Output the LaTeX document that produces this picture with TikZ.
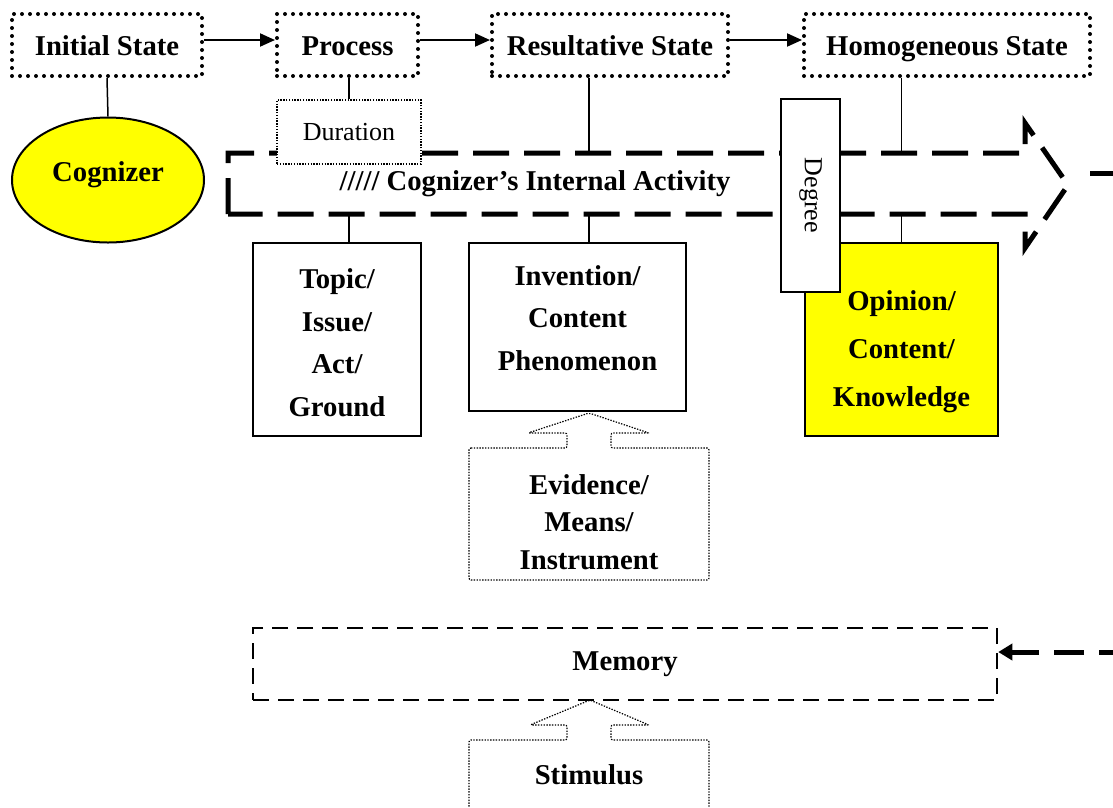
\documentclass[tikz,border=0pt]{standalone}
\usepackage{fontspec}
\setmainfont{Liberation Serif}
\usetikzlibrary{arrows.meta,shapes.geometric}
\definecolor{hiyellow}{RGB}{255,255,0}

\begin{document}
\begin{tikzpicture}[x=1pt,y=-1pt,
  bigtxt/.style={font=\fontsize{28.7}{42.5}\selectfont\bfseries},
  smalltxt/.style={font=\fontsize{26}{30}\selectfont},
  statebox/.style={draw,line width=4pt,dash pattern=on 0pt off 8pt,line cap=round,
                   inner sep=0pt,minimum height=62pt,text height=20pt,text depth=0pt,bigtxt},
  flow/.style={line width=2pt,-{Triangle[length=15pt,width=13pt]}},
  link/.style={line width=1.5pt},
  solidbox/.style={draw,line width=2.6pt,inner sep=0pt,align=center,bigtxt},
  finedot/.style={line width=1.2pt,dash pattern=on 1.4pt off 1.4pt},
  bigdash/.style={line width=5pt,dash pattern=on 36pt off 15pt},
]
\useasboundingbox (0,0) rectangle (1113,807);
\clip (0,0) rectangle (1113,807);

% sequence of states
\node[statebox,minimum width=190pt] (init) at (107,45) {Initial State};
\node[statebox,minimum width=141pt] (proc) at (347.5,45) {Process};
\node[statebox,minimum width=236pt] (res)  at (610,45) {Resultative State};
\node[statebox,minimum width=286pt] (homo) at (947,45) {Homogeneous State};
\draw[flow] ([yshift=5pt]init.east) -- ([yshift=5pt]proc.west);
\draw[flow] ([yshift=5pt]proc.east) -- ([yshift=5pt]res.west);
\draw[flow] ([yshift=5pt]res.east) -- ([yshift=5pt]homo.west);

% cognizer
\node[ellipse,draw,line width=2pt,fill=hiyellow,minimum width=192pt,minimum height=125pt,bigtxt]
  (cog) at (108,180) {Cognizer\rule[-16pt]{0pt}{1pt}};
\draw[link] (init.south) -- (cog.north);

% internal activity block arrow
\coordinate (atop) at (0,153);
\coordinate (abot) at (0,214);
\coordinate (outstart) at (1090,173);
\draw[bigdash] (228,214) -- (228,153) -- (1025,153) -- (1025,123) -- (1068,185)
  -- (1025,248) -- (1025,214) -- cycle;
\node[bigtxt] (act) at (535,184) {///// Cognizer’s Internal Activity};

% duration
\node[draw,finedot,fill=white,minimum width=144pt,minimum height=64pt,inner sep=0pt,smalltxt]
  (dur) at (349,132) {Duration};
\draw[link] (proc.south -| dur.north) -- (dur.north);

% participants below the activity
\node[solidbox,minimum width=168pt,minimum height=193pt] (topic) at (337,339.5)
  {\rule{0pt}{26pt}Topic/\\Issue/\\Act/\\Ground};
\draw[link] (abot -| dur.south) -- (topic.north -| dur.south);

\node[solidbox,minimum width=217pt,minimum height=168pt] (inv) at (577.5,327)
  {Invention/\\Content\\Phenomenon\rule[-18pt]{0pt}{1pt}};

\node[align=center,inner sep=0pt,font=\fontsize{28.7}{37.5}\selectfont\bfseries]
  (evid) at (589,522) {Evidence/\\Means/\\Instrument};
\draw[finedot,rounded corners=2pt] (469,448) -- (567,448) -- (567,433) -- (528,433)
  -- (589,413) -- (649,433) -- (611,433) -- (611,448) -- (709,448) -- (709,580)
  -- (469,580) -- cycle;

\draw[link] (res.south -| evid) -- (atop -| evid);
\draw[link] (abot -| evid) -- (inv.north -| evid);

\node[solidbox,fill=hiyellow,minimum width=193pt,minimum height=193pt,
  font=\fontsize{28.7}{48}\selectfont\bfseries] (opin) at (901.5,339.5)
  {\rule{0pt}{44pt}Opinion/\\Content/\\Knowledge};
\draw[link] (homo.south -| opin.north) -- (atop -| opin.north);
\draw[link] (abot -| opin.north) -- (opin.north);

% degree
\node[draw,line width=2pt,fill=white,minimum width=59pt,minimum height=193pt,inner sep=0pt]
  (deg) at (810.5,195.5) {\rotatebox{-90}{\fontsize{26}{30}\selectfont Degree}};

% memory and stimulus
\node[draw,line width=2.5pt,dash pattern=on 16pt off 9pt,minimum width=744pt,
  minimum height=72pt,inner sep=0pt,bigtxt] (mem) at (625,664) {Memory};
\draw[line width=5pt,dash pattern=on 30pt off 15pt,-{Triangle[length=14pt,width=16pt]}]
  (outstart) -- (1140,173) -- (1140,652) -- ([yshift=12pt]mem.east);

\node[bigtxt] (stim) at (589,775) {Stimulus};
\draw[finedot,rounded corners=2pt] (469,815) -- (469,740) -- (567,740) -- (567,725)
  -- (530,725) -- (590,700) -- (649,725) -- (611,725) -- (611,740) -- (709,740)
  -- (709,815);
\end{tikzpicture}
\end{document}
